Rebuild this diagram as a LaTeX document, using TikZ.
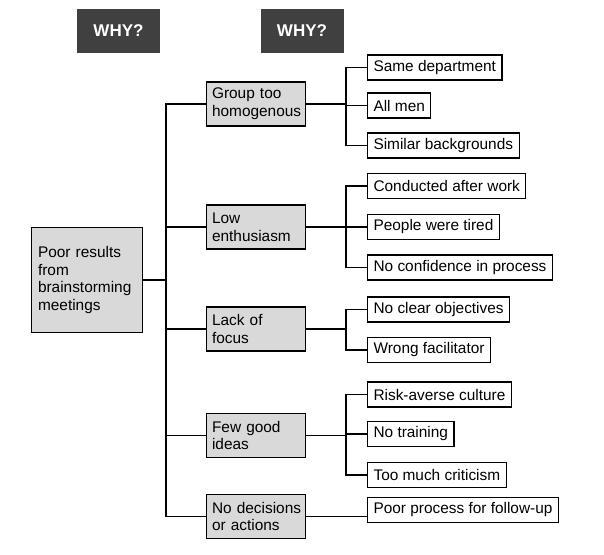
\documentclass[tikz,border=0pt]{standalone}
\usepackage{fontspec}
\setmainfont{Liberation Sans}
\usepackage{tikz}
\definecolor{white}{rgb}{1.0, 1.0, 1.0}
\definecolor{black}{rgb}{0.0, 0.0, 0.0}
\definecolor{whygray}{RGB}{64,64,64}
\definecolor{lgray}{RGB}{217,217,217}
\pgfdeclarelayer{edgelayer}
\pgfdeclarelayer{nodelayer}
\pgfsetlayers{edgelayer,nodelayer,main}
\newcommand{\boxfont}{\fontsize{15.4}{17.7}\selectfont\hyphenpenalty=10000\exhyphenpenalty=10000}
\tikzstyle{why}=[fill=whygray,text=white,font=\fontsize{17}{20}\selectfont\bfseries,minimum width=83pt,minimum height=44pt,inner sep=0pt]
\tikzstyle{problem}=[draw=black,fill=lgray,line width=1.1pt,text width=98pt,inner xsep=6.5pt,align=left,minimum height=105pt,font=\boxfont]
\tikzstyle{cause}=[draw=black,fill=lgray,line width=1.1pt,text width=88pt,inner xsep=5.5pt,align=left,minimum height=44pt,font=\boxfont]
\tikzstyle{reason}=[draw=black,fill=white,line width=1.1pt,inner xsep=6pt,inner ysep=0pt,minimum height=25pt,font=\boxfont]
\tikzstyle{link}=[black,line width=1.1pt]

\begin{document}
\begin{tikzpicture}[x=1pt,y=-1pt]
        \useasboundingbox (0,0) rectangle (604,554);
        \begin{pgfonlayer}{nodelayer}
            \node [style = why] (why1) at (118.5, 31) {WHY?};
            \node [style = why] (why2) at (302, 31) {WHY?};

            \node [style = problem, anchor=west] (poor) at (31, 280) {Poor~results\\from\\brainstorming\\meetings};

            \node [style = cause, anchor=west] (homog) at (206, 104) {Group~too\\homogenous};
            \node [style = cause, anchor=west] (enth) at (206, 227) {Low\\enthusiasm};
            \node [style = cause, anchor=west] (focus) at (206, 329) {Lack~of\\focus};
            \node [style = cause, anchor=west] (ideas) at (206, 435.5) {Few~good\\ideas};
            \node [style = cause, anchor=west] (decis) at (206, 516.5) {No~decisions\\or~actions};

            \node [style = reason, anchor=west] (dept) at (367, 67.5) {Same department};
            \node [style = reason, anchor=west] (men) at (367, 105.5) {All men};
            \node [style = reason, anchor=west] (backgr) at (367, 145.5) {Similar backgrounds};

            \node [style = reason, anchor=west] (afterwork) at (367, 186) {Conducted after work};
            \node [style = reason, anchor=west] (tired) at (367, 227) {People were tired};
            \node [style = reason, anchor=west] (confid) at (367, 267.5) {No confidence in process};

            \node [style = reason, anchor=west] (object) at (367, 309.5) {No clear objectives};
            \node [style = reason, anchor=west] (facil) at (367, 350) {Wrong facilitator};

            \node [style = reason, anchor=west] (risk) at (367, 394.5) {Risk-averse culture};
            \node [style = reason, anchor=west] (train) at (367, 434) {No training};
            \node [style = reason, anchor=west] (critic) at (367, 475) {Too much criticism};

            \node [style = reason, anchor=west] (follow) at (367, 510) {Poor process for follow-up};
        \end{pgfonlayer}

        \coordinate (trunk) at (166, 280);
        \coordinate (brk1) at (346, 104);
        \coordinate (brk2) at (346, 227);
        \coordinate (brk3) at (346, 329);
        \coordinate (brk4) at (346, 435.5);

        \begin{pgfonlayer}{edgelayer}
            \draw [link] (poor.east) -- (trunk) |- (homog.west);
            \draw [link] (poor.east) -- (trunk) |- (enth.west);
            \draw [link] (poor.east) -- (trunk) |- (focus.west);
            \draw [link] (poor.east) -- (trunk) |- (ideas.west);
            \draw [link] (poor.east) -- (trunk) |- (decis.west);

            \draw [link] (homog.east) -- (brk1) |- (dept.west);
            \draw [link] (homog.east) -- (brk1) |- (men.west);
            \draw [link] (homog.east) -- (brk1) |- (backgr.west);

            \draw [link] (enth.east) -- (brk2) |- (afterwork.west);
            \draw [link] (enth.east) -- (brk2) |- (tired.west);
            \draw [link] (enth.east) -- (brk2) |- (confid.west);

            \draw [link] (focus.east) -- (brk3) |- (object.west);
            \draw [link] (focus.east) -- (brk3) |- (facil.west);

            \draw [link] (ideas.east) -- (brk4) |- (risk.west);
            \draw [link] (ideas.east) -- (brk4) |- (train.west);
            \draw [link] (ideas.east) -- (brk4) |- (critic.west);

            \draw [link] (decis.east) -- (decis.east -| follow.west);
        \end{pgfonlayer}
    \end{tikzpicture}
\end{document}
